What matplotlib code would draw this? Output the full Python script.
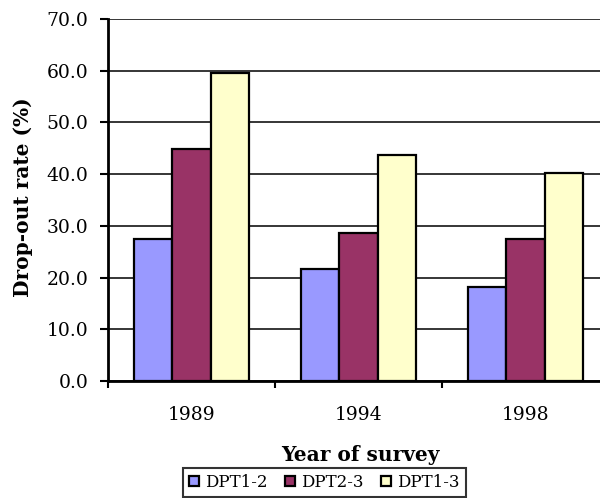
import numpy as np
import matplotlib.pyplot as plt

anos = ["1989", "1994", "1998"]
series = ["DPT1-2", "DPT2-3", "DPT1-3"]
dpt12 = [27.5, 21.6, 18.1]
dpt23 = [44.8, 28.6, 27.4]
dpt13 = [59.5, 43.7, 40.2]
cores = ["#9999FF", "#993366", "#FFFFCC"]

# fonte serifada larga, parecida com o Times esticado do original
plt.rcParams['font.family'] = ['DejaVu Serif']

fig = plt.figure(figsize=(6, 4.98), dpi=100)
ax = fig.add_axes([0.18, 0.235, 0.835, 0.727])

x = np.arange(len(anos)) + 0.5
w = 0.228
for i, (vals, nome) in enumerate(zip([dpt12, dpt23, dpt13], series)):
    ax.bar(x + (i - 1) * w, vals, width=w, color=cores[i], edgecolor='black',
           linewidth=1.6, label=nome, zorder=3)

ax.set_xlim(0, 3)
ax.set_ylim(0, 70)
ax.set_yticks(np.arange(0, 71, 10))
ax.set_yticklabels([f"{v:.1f}" for v in np.arange(0, 71, 10)], fontsize=13.5)
ax.yaxis.grid(True, color='black', lw=1.1, zorder=0)

# ticks nas divisoes das categorias, rotulos no centro
ax.set_xticks([0, 1, 2, 3])
ax.set_xticklabels([])
ax.set_xticks(x, minor=True)
ax.set_xticklabels(anos, minor=True, fontsize=13.5)
ax.tick_params(axis='x', which='minor', length=0, pad=18)
ax.tick_params(axis='x', which='major', length=5, width=1.5, direction='out')
ax.tick_params(axis='y', length=6, width=1.5, direction='out', pad=8)

for s in ['top', 'right']:
    ax.spines[s].set_visible(False)
for s in ['left', 'bottom']:
    ax.spines[s].set_linewidth(2)
    ax.spines[s].set_zorder(4)

fig.text(23.5 / 600, 1 - 197 / 498, 'Drop-out rate (%)', rotation=90,
         ha='center', va='center', fontsize=14.5, fontweight='bold')
fig.text(360 / 600, 1 - 455 / 498, 'Year of survey',
         ha='center', va='center', fontsize=14.5, fontweight='bold')

leg = fig.legend(loc='upper left', bbox_to_anchor=(183 / 600, 1 - 468 / 498), ncol=3,
                 fontsize=12, frameon=True, fancybox=False, edgecolor='black',
                 handlelength=0.6, handleheight=0.6, handletextpad=0.4,
                 columnspacing=1.0, borderpad=0.35, borderaxespad=0)
leg.get_frame().set_linewidth(1.5)

plt.savefig('out.png', dpi=100)
